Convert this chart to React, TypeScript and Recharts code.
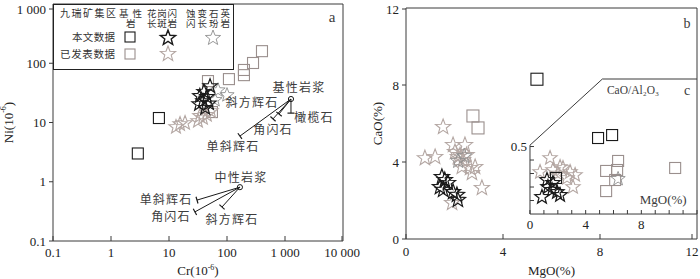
import React from 'react';
import { ScatterChart, Scatter, XAxis, YAxis, ReferenceLine } from 'recharts';

const FONT = "'Liberation Serif','Noto Sans CJK SC',serif";
const AXIS = '#3a3a3a';
const BLACK = '#1a1a1a';
const SQ_GRAY = '#9a8f8d';
const STAR_PUB = '#b4a7a3';
const STAR_ALT = '#8e8e8e';
const TXT = '#3c3c3c';

// ---------- panel a : Cr vs Ni (log-log) ----------
const crTicks = [0.1, 1, 10, 100, 1000, 10000];
const niTicks = [0.1, 1, 10, 100, 1000];
const aBasicOwn = [{ x: 6.7, y: 11.9 }, { x: 2.9, y: 3.0 }];
const aBasicPub = [
  { x: 401, y: 160 }, { x: 281, y: 101 }, { x: 196, y: 77 }, { x: 196, y: 63 },
  { x: 108, y: 54 }, { x: 47, y: 50 }, { x: 55, y: 15 },
];
const aGdpPub = [
  { x: 15.5, y: 9.4 }, { x: 13.2, y: 8.4 }, { x: 18.9, y: 9.8 }, { x: 31.6, y: 10.6 },
  { x: 38.5, y: 11.9 }, { x: 45, y: 13.4 }, { x: 34, y: 12.9 }, { x: 53, y: 15.6 },
];
const aAltOwn = [{ x: 70, y: 35 }, { x: 100, y: 29 }, { x: 62, y: 24 }];
const aGdpOwn = [
  { x: 51, y: 41 }, { x: 40, y: 33 }, { x: 34, y: 28 }, { x: 45, y: 27 },
  { x: 38.5, y: 23 }, { x: 49, y: 21 }, { x: 33, y: 20.5 }, { x: 42, y: 17.6 },
];
const aMagma = [{ x: 1268, y: 24.9 }, { x: 167, y: 0.81 }];
const aBasicVectorEnds = [{ x: 167, y: 5.9 }, { x: 621, y: 11.5 }, { x: 789, y: 13.9 }, { x: 1268, y: 14.4 }];
const aInterVectorEnds = [{ x: 30.4, y: 0.49 }, { x: 28, y: 0.31 }, { x: 82, y: 0.375 }];
const aLabels = [
  { x: 1742, y: 38, text: '基性岩浆' },
  { x: 270, y: 21.3, text: '斜方辉石' },
  { x: 3162, y: 11.9, text: '橄榄石' },
  { x: 621, y: 7.5, text: '角闪石' },
  { x: 127, y: 3.85, text: '单斜辉石' },
  { x: 174, y: 1.16, text: '中性岩浆' },
  { x: 8.9, y: 0.49, text: '单斜辉石' },
  { x: 10.8, y: 0.254, text: '角闪石' },
  { x: 122, y: 0.226, text: '斜方辉石' },
];
const aPanelTag = [{ x: 6460, y: 603, text: 'a' }];
const aFrame = [{ x: 0.1, y: 1000 }, { x: 10000, y: 1000 }, { x: 10000, y: 0.1 }];

// ---------- panel b : MgO vs CaO ----------
const bTicks = [0, 4, 8, 12];
const bBasicOwn = [{ x: 5.4, y: 8.3 }];
const bBasicPub = [{ x: 2.76, y: 6.39 }, { x: 2.97, y: 5.77 }];
const bGdpPub = [
  { x: 1.53, y: 5.82 }, { x: 0.78, y: 4.2 }, { x: 1.2, y: 4.26 }, { x: 1.94, y: 4.88 },
  { x: 2.43, y: 4.88 }, { x: 2.02, y: 4.52 }, { x: 2.23, y: 4.36 }, { x: 2.35, y: 4.1 },
  { x: 2.3, y: 3.74 }, { x: 2.64, y: 3.69 }, { x: 2.85, y: 3.74 }, { x: 2.72, y: 3.43 },
  { x: 3.13, y: 2.65 }, { x: 1.9, y: 1.87 }, { x: 2.14, y: 4.26 }, { x: 2.5, y: 4.36 },
];
const bAltOwn = [{ x: 2.4, y: 4.3 }, { x: 2.15, y: 4.05 }];
const bGdpOwn = [
  { x: 1.48, y: 3.22 }, { x: 1.6, y: 3.06 }, { x: 1.4, y: 2.7 }, { x: 1.53, y: 2.55 },
  { x: 1.94, y: 2.44 }, { x: 2.1, y: 2.29 }, { x: 2.14, y: 2.03 }, { x: 1.73, y: 2.91 },
];
const bLabels = [
  { x: 11.59, y: 11.22, text: 'b', size: 14 },
  { x: 11.59, y: 7.74, text: 'c', size: 14 },
  { x: 9.36, y: 7.74, text: 'CaO/Al₂O₃', size: 11.5 },
];
const bFrame = [{ x: 0, y: 12 }, { x: 12, y: 12 }, { x: 12, y: 0 }];

// ---------- inset c : MgO vs CaO/Al2O3 (own pair of axes inside panel b) ----------
const cDomainX = [-8.91, 12];
const cDomainY = [-0.185, 1.526];
const cXTicks = [0, 1, 2, 3, 4, 5, 6, 7, 8, 9, 10, 11, 12];
const cXLabels = [0, 4, 8];
const cYTicks = [0.1, 0.2, 0.3, 0.4, 0.5];
const cYLabels = [0.5];
const cFrame = [{ x: 0, y: 0 }, { x: 0, y: 0.51 }, { x: 5.2, y: 1.0 }, { x: 12, y: 1.0 }];
const cBasicOwn = [{ x: 4.89, y: 0.563 }, { x: 5.9, y: 0.585 }, { x: 1.87, y: 0.267 }];
const cBasicPub = [
  { x: 5.47, y: 0.319 }, { x: 6.33, y: 0.393 }, { x: 6.26, y: 0.326 },
  { x: 6.12, y: 0.252 }, { x: 5.47, y: 0.17 }, { x: 10.43, y: 0.341 },
];
const cGdpPub = [
  { x: 1.44, y: 0.415 }, { x: 0.72, y: 0.311 }, { x: 1.65, y: 0.326 }, { x: 2.37, y: 0.341 },
  { x: 2.88, y: 0.311 }, { x: 3.24, y: 0.289 }, { x: 3.09, y: 0.2 }, { x: 2.66, y: 0.267 },
  { x: 2.16, y: 0.348 }, { x: 2.0, y: 0.3 },
];
const cAltOwn = [{ x: 6.33, y: 0.26 }];
const cGdpOwn = [
  { x: 0.86, y: 0.126 }, { x: 1.29, y: 0.2 }, { x: 1.65, y: 0.23 }, { x: 1.94, y: 0.163 },
  { x: 2.16, y: 0.141 }, { x: 1.22, y: 0.252 }, { x: 1.58, y: 0.178 },
];
const cLabels = [{ x: 9.57, y: 0.111, text: 'MgO(%)', size: 13 }];

// ---------- layout of panel b plot area (page px) ----------
const B_LEFT = 406, B_BOTTOM = 239, B_W = 291, B_H = 231;

// ---------- helpers ----------
const starD = (cx: number, cy: number, R: number) => {
  const r = R * 0.42;
  let d = '';
  for (let i = 0; i < 10; i++) {
    const a = -Math.PI / 2 + (i * Math.PI) / 5;
    const rr = i % 2 === 0 ? R : r;
    d += (i ? 'L' : 'M') + (cx + rr * Math.cos(a)).toFixed(2) + ',' + (cy + rr * Math.sin(a)).toFixed(2);
  }
  return d + 'Z';
};
const star = (color: string, R: number, sw: number) => (p: any) =>
  <path d={starD(p.cx, p.cy, R)} fill="none" stroke={color} strokeWidth={sw} />;
const square = (color: string, s: number, sw: number) => (p: any) =>
  <rect x={p.cx - s / 2} y={p.cy - s / 2} width={s} height={s} fill="none" stroke={color} strokeWidth={sw} />;
const textShape = (size: number, spacing: number) => (p: any) => (
  <text x={p.cx} y={p.cy} textAnchor="middle" dominantBaseline="central" fontSize={p.payload.size || size}
    letterSpacing={spacing} fontFamily={FONT} fill={p.payload.fill || TXT}>{p.payload.text}</text>
);
const dotShape = (p: any) => <circle cx={p.cx} cy={p.cy} r={2.6} fill="none" stroke={BLACK} strokeWidth={1} />;
const vectorShape = (p: any) => {
  const { x1, y1, x2, y2 } = p;
  const dx = x2 - x1, dy = y2 - y1;
  const L = Math.sqrt(dx * dx + dy * dy) || 1;
  const nx = (-dy / L) * 3.5, ny = (dx / L) * 3.5;
  return (
    <g>
      <line x1={x1} y1={y1} x2={x2} y2={y2} stroke={BLACK} strokeWidth={1} />
      <line x1={x2 - nx} y1={y2 - ny} x2={x2 + nx} y2={y2 + ny} stroke={BLACK} strokeWidth={1.2} />
    </g>
  );
};
const fmt = (v: number) => (v >= 1000 ? String(v).replace(/(\d)(?=(\d{3})+$)/g, '$1 ') : String(v));

const bottomTick = (inward: number, dyLabel: number) => (p: any) => (
  <g>
    <line x1={p.x} x2={p.x} y1={p.y} y2={p.y - inward} stroke={AXIS} strokeWidth={1} />
    <text x={p.x} y={p.y + dyLabel} textAnchor="middle" fontSize={13} fontFamily={FONT} fill="#222">{fmt(p.payload.value)}</text>
  </g>
);
const leftTick = (len: number) => (p: any) => (
  <g>
    <line x1={p.x - len} x2={p.x} y1={p.y} y2={p.y} stroke={AXIS} strokeWidth={1} />
    <text x={p.x - len - 3} y={p.y} dy="0.35em" textAnchor="end" fontSize={13} fontFamily={FONT} fill="#222">{fmt(p.payload.value)}</text>
  </g>
);

// inset scale (same linear mapping the hidden inset axes use)
const C_PX_X = B_W / (cDomainX[1] - cDomainX[0]);
const C_PX_Y = B_H / (cDomainY[1] - cDomainY[0]);
const cpx = (v: number) => B_LEFT + (v - cDomainX[0]) * C_PX_X;
const cpy = (v: number) => B_BOTTOM - (v - cDomainY[0]) * C_PX_Y;
const cYTickSegs = cYTicks.map((v) => [{ x: 0, y: v }, { x: 4 / C_PX_X, y: v }]);
const cYTickLabels = cYLabels.map((v) => ({ x: -11 / C_PX_X, y: v, text: String(v), size: 13, fill: '#222' }));

// inset bottom axis (line, inward ticks, labels) drawn from the inset scale
const InsetBottomAxis = () => {
  const y0 = cpy(0);
  return (
    <svg width={700} height={279} style={{ position: 'absolute', left: 0, top: 0, pointerEvents: 'none' }}>
      <line x1={cpx(0)} x2={cpx(12)} y1={y0} y2={y0} stroke={AXIS} strokeWidth={1} />
      {cXTicks.map((k) => (
        <line key={k} x1={cpx(k)} x2={cpx(k)} y1={y0} y2={y0 - 4} stroke={AXIS} strokeWidth={1} />
      ))}
      {cXLabels.map((k) => (
        <text key={'l' + k} x={cpx(k)} y={y0 + 15} textAnchor="middle" fontSize={13} fontFamily={FONT} fill="#222">{k}</text>
      ))}
    </svg>
  );
};

const sup = (
  <>
    <tspan dy={-5} fontSize={8}>-6</tspan>
    <tspan dy={5}>)</tspan>
  </>
);

const LegendBox = () => {
  const t = (x: number, y: number, s: string, w: number, fs = 10.5) => (
    <text x={x} y={y} fontSize={fs} textLength={w} lengthAdjust="spacing" fontFamily={FONT} fill="#333">{s}</text>
  );
  return (
    <svg width={181} height={66} style={{ display: 'block' }}>
      <rect x={0.5} y={0.5} width={180} height={65} fill="none" stroke="#222" strokeWidth={1} />
      {t(7, 13, '九瑞矿集区', 56, 10)}
      {t(66, 13, '基性', 23, 9.5)}
      {t(73, 23, '岩', 9.5, 9.5)}
      {t(94, 13, '花岗闪', 30, 9.5)}
      {t(94, 23, '长斑岩', 30, 9.5)}
      {t(133, 13, '蚀变石英', 44, 9.5)}
      {t(133, 23, '闪长玢岩', 44, 9.5)}
      {t(19, 37, '本文数据', 43)}
      {t(7, 54, '已发表数据', 55)}
      <rect x={72} y={28} width={10} height={10} fill="none" stroke={BLACK} strokeWidth={1.1} />
      <rect x={72} y={45} width={10} height={10} fill="none" stroke={SQ_GRAY} strokeWidth={1.1} />
      <path d={starD(115, 34, 8)} fill="none" stroke={BLACK} strokeWidth={1.4} />
      <path d={starD(115, 50, 8)} fill="none" stroke={STAR_PUB} strokeWidth={1.1} />
      <path d={starD(160, 34, 8)} fill="none" stroke={STAR_ALT} strokeWidth={0.9} />
    </svg>
  );
};

export default function App() {
  return (
    <div style={{ position: 'absolute', left: 0, top: 0, width: 700, height: 279, background: '#fff', overflow: 'hidden' }}>
      {/* panel b with inset c */}
      <div style={{ position: 'absolute', left: 350, top: 0 }}>
        <ScatterChart width={350} height={279} margin={{ top: 8, right: 3, bottom: 0, left: 0 }}>
          <XAxis dataKey="x" type="number" domain={[0, 12]} ticks={bTicks} allowDataOverflow
            height={40} stroke={AXIS} tickLine={false} tickSize={0} tickMargin={0} tick={bottomTick(5, 17)}
            label={(p: any) => {
              const vb = p.viewBox || { x: 56, y: 239, width: 291, height: 40 };
              return (
                <text x={vb.x + vb.width / 2} y={vb.y + vb.height - 4} textAnchor="middle" fontSize={13} fontFamily={FONT} fill="#222">
                  MgO(%)
                </text>
              );
            }} />
          <XAxis xAxisId="c" dataKey="x" type="number" domain={cDomainX} allowDataOverflow hide />
          <YAxis dataKey="y" type="number" domain={[0, 12]} ticks={bTicks} allowDataOverflow
            width={56} stroke={AXIS} tickLine={false} tickSize={0} tickMargin={0} tick={leftTick(4)}
            label={(p: any) => {
              const vb = p.viewBox || { x: 0, y: 8, width: 56, height: 231 };
              const cx = vb.x + 27, cy = vb.y + vb.height / 2;
              return (
                <text x={cx} y={cy} transform={`rotate(-90 ${cx} ${cy})`} textAnchor="middle" dominantBaseline="central" fontSize={13} fontFamily={FONT} fill="#222">
                  CaO(%)
                </text>
              );
            }} />
          <YAxis yAxisId="c" dataKey="y" type="number" domain={cDomainY} allowDataOverflow hide />
          <ReferenceLine segment={[bFrame[0], bFrame[1]]} ifOverflow="visible" stroke={AXIS} strokeWidth={1} />
          <ReferenceLine segment={[bFrame[1], bFrame[2]]} ifOverflow="visible" stroke={AXIS} strokeWidth={1} />
          {cFrame.slice(1).map((pt, i) => (
            <ReferenceLine key={'f' + i} xAxisId="c" yAxisId="c" segment={[cFrame[i], pt]} ifOverflow="visible" stroke={AXIS} strokeWidth={1} />
          ))}
          {cYTickSegs.map((s, i) => (
            <ReferenceLine key={'t' + i} xAxisId="c" yAxisId="c" segment={s} ifOverflow="visible" stroke={AXIS} strokeWidth={1} />
          ))}
          <Scatter data={bBasicPub} shape={square(SQ_GRAY, 12, 1.1)} isAnimationActive={false} />
          <Scatter data={bGdpPub} shape={star(STAR_PUB, 8, 1.1)} isAnimationActive={false} />
          <Scatter data={bAltOwn} shape={star(STAR_ALT, 8, 0.9)} isAnimationActive={false} />
          <Scatter data={bBasicOwn} shape={square(BLACK, 12, 1.1)} isAnimationActive={false} />
          <Scatter data={bGdpOwn} shape={star(BLACK, 8, 1.2)} isAnimationActive={false} />
          <Scatter data={bLabels} shape={textShape(13, 0)} isAnimationActive={false} />
          <Scatter xAxisId="c" yAxisId="c" data={cBasicPub} shape={square(SQ_GRAY, 11, 1.1)} isAnimationActive={false} />
          <Scatter xAxisId="c" yAxisId="c" data={cGdpPub} shape={star(STAR_PUB, 7.5, 1.1)} isAnimationActive={false} />
          <Scatter xAxisId="c" yAxisId="c" data={cAltOwn} shape={star(STAR_ALT, 7.5, 0.9)} isAnimationActive={false} />
          <Scatter xAxisId="c" yAxisId="c" data={cBasicOwn} shape={square(BLACK, 11, 1.1)} isAnimationActive={false} />
          <Scatter xAxisId="c" yAxisId="c" data={cGdpOwn} shape={star(BLACK, 7.5, 1.2)} isAnimationActive={false} />
          <Scatter xAxisId="c" yAxisId="c" data={cLabels} shape={textShape(13, 0)} isAnimationActive={false} />
          <Scatter xAxisId="c" yAxisId="c" data={cYTickLabels} shape={textShape(13, 0)} isAnimationActive={false} />
        </ScatterChart>
      </div>

      {/* panel a */}
      <div style={{ position: 'absolute', left: 0, top: 0, width: 362, height: 279 }}>
        <ScatterChart width={362} height={279} margin={{ top: 4, right: 19, bottom: 0, left: 0 }}>
          <XAxis dataKey="x" type="number" scale="log" domain={[0.1, 10000]} ticks={crTicks} allowDataOverflow
            height={38} stroke={AXIS} tickLine={false} tickSize={0} tickMargin={0} tick={bottomTick(5, 16)}
            label={(p: any) => {
              const vb = p.viewBox || { x: 53, y: 241, width: 290, height: 38 };
              return (
                <text x={vb.x + vb.width / 2} y={vb.y + vb.height - 4} textAnchor="middle" fontSize={13} fontFamily={FONT} fill="#222">
                  Cr(10{sup}
                </text>
              );
            }} />
          <YAxis dataKey="y" type="number" scale="log" domain={[0.1, 1000]} ticks={niTicks} allowDataOverflow
            width={53} stroke={AXIS} tickLine={false} tickSize={0} tickMargin={0} tick={leftTick(4)}
            label={(p: any) => {
              const vb = p.viewBox || { x: 0, y: 4, width: 53, height: 237 };
              const cx = vb.x + 8, cy = vb.y + vb.height / 2;
              return (
                <text x={cx} y={cy} transform={`rotate(-90 ${cx} ${cy})`} textAnchor="middle" dominantBaseline="central" fontSize={13} fontFamily={FONT} fill="#222">
                  Ni(10{sup}
                </text>
              );
            }} />
          <ReferenceLine segment={[aFrame[0], aFrame[1]]} ifOverflow="visible" stroke={AXIS} strokeWidth={1} />
          <ReferenceLine segment={[aFrame[1], aFrame[2]]} ifOverflow="visible" stroke={AXIS} strokeWidth={1} />
          {aBasicVectorEnds.map((e, i) => (
            <ReferenceLine key={'bv' + i} segment={[aMagma[0], e]} ifOverflow="visible" shape={vectorShape} />
          ))}
          {aInterVectorEnds.map((e, i) => (
            <ReferenceLine key={'iv' + i} segment={[aMagma[1], e]} ifOverflow="visible" shape={vectorShape} />
          ))}
          <Scatter data={aBasicPub} shape={square(SQ_GRAY, 11, 1.1)} isAnimationActive={false} />
          <Scatter data={aGdpPub} shape={star(STAR_PUB, 7.5, 1.1)} isAnimationActive={false} />
          <Scatter data={aAltOwn} shape={star(STAR_ALT, 7.5, 0.9)} isAnimationActive={false} />
          <Scatter data={aBasicOwn} shape={square(BLACK, 11, 1.1)} isAnimationActive={false} />
          <Scatter data={aGdpOwn} shape={star(BLACK, 7.5, 1.2)} isAnimationActive={false} />
          <Scatter data={aMagma} shape={dotShape} isAnimationActive={false} />
          <Scatter data={aLabels} shape={textShape(12, 1.2)} isAnimationActive={false} />
          <Scatter data={aPanelTag} shape={textShape(15, 0)} isAnimationActive={false} />
        </ScatterChart>
        <div style={{ position: 'absolute', left: 53, top: 4, width: 181, height: 66, lineHeight: 0, pointerEvents: 'none' }}>
          <LegendBox />
        </div>
      </div>

      <InsetBottomAxis />
    </div>
  );
}
